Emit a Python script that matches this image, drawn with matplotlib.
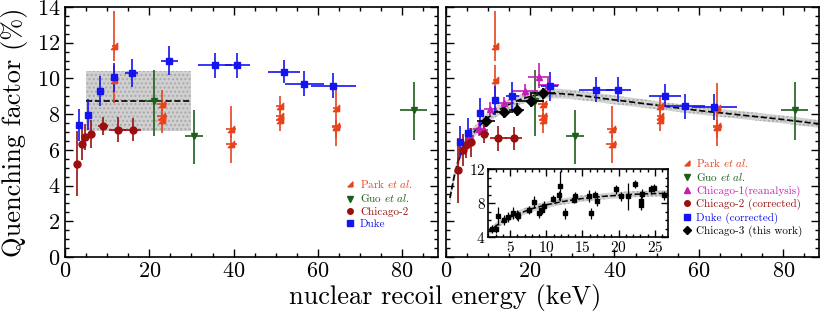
import matplotlib
matplotlib.use("Agg")
import matplotlib.pyplot as plt
from matplotlib.lines import Line2D
from matplotlib.ticker import MultipleLocator

plt.rcParams["font.family"] = "cmr10"
plt.rcParams["mathtext.fontset"] = "cm"
plt.rcParams["axes.unicode_minus"] = False
plt.rcParams["axes.formatter.use_mathtext"] = True

# colours
c_park = "#e8431c"
c_guo = "#1d5e1d"
c_chi1 = "#c21fb4"
c_chi2 = "#9a0e0e"
c_duke = "#1414f0"
c_chi3 = "black"

# ---- Park et al. (same in both panels)
park_x = [11.7, 11.7, 23.0, 23.0, 23.0, 39.4, 39.4, 50.9, 50.9, 50.9, 64.4, 64.4, 64.4]
park_y = [11.8, 9.93, 8.57, 7.9, 7.65, 7.17, 6.31, 8.44, 7.88, 7.65, 8.33, 7.35, 7.26]
park_ylo = [0.8, 1.3, 0.4, 0.5, 0.7, 0.5, 1.05, 0.4, 0.4, 0.6, 0.5, 0.7, 1.06]
park_yhi = [1.95, 0.8, 0.8, 0.4, 0.4, 1.27, 0.5, 0.56, 0.4, 0.3, 1.4, 0.5, 0.4]
park_xe = [0.6, 0.6, 1.2, 1.2, 1.0, 1.2, 1.3, 0.9, 0.9, 0.9, 0.9, 1.0, 1.0]

# ---- Guo et al.
guo_x = [21.1, 30.6, 82.7]
guo_y = [8.72, 6.76, 8.21]
guo_ylo = [1.93, 1.53, 1.68]
guo_yhi = [1.77, 1.49, 1.57]
guo_xe = [2.0, 2.2, 3.2]

# ---- Chicago-2 (original / corrected)
chi2_x = [2.8, 4.0, 4.75, 6.1, 9.1, 12.5, 16.1]
chi2_y = [5.23, 6.35, 6.72, 6.89, 7.35, 7.13, 7.13]
chi2c_y = [4.85, 5.97, 6.27, 6.42, 6.87, 6.65, 6.65]
chi2_ye = [1.8, 0.9, 0.75, 0.8, 0.5, 0.7, 0.65]
chi2_xe = [0.3, 0.3, 0.3, 0.3, 1.2, 2.0, 2.0]

# ---- Duke (original / corrected)
duke_x = [3.4, 5.4, 8.2, 11.7, 15.8, 24.7, 35.6, 40.9, 52.0, 56.8, 63.7]
duke_y = [7.37, 7.97, 9.31, 10.06, 10.3, 11.0, 10.73, 10.73, 10.38, 9.69, 9.6]
dukec_y = [6.42, 6.94, 8.06, 8.77, 9.0, 9.56, 9.37, 9.37, 9.03, 8.44, 8.38]
duke_ye = [0.9, 0.85, 0.85, 0.8, 0.8, 0.8, 0.7, 0.7, 0.65, 0.7, 0.72]
duke_xe = [0.3, 0.4, 0.5, 0.6, 1.6, 2.0, 4.0, 3.0, 3.8, 4.7, 5.3]

# ---- Chicago-1 (reanalysis)
chi1_x = [5.8, 7.9, 9.0, 10.6, 13.8, 18.8, 22.1, 24.3]
chi1_y = [6.8, 7.15, 7.1, 8.3, 8.6, 9.3, 10.1, 9.63]
chi1_ylo = [0.45, 0.4, 0.4, 0.4, 0.35, 0.35, 0.65, 0.4]
chi1_yhi = [0.45, 0.4, 0.4, 0.4, 0.35, 0.4, 0.75, 0.4]
chi1_xe = [1.0, 1.5, 1.0, 1.5, 2.3, 3.0, 2.5, 2.5]

# ---- Chicago-3 (this work)
chi3_x = [9.5, 13.7, 16.8, 20.2, 23.0]
chi3_y = [7.6, 8.1, 8.25, 8.76, 9.17]
chi3_ye = [0.3, 0.3, 0.37, 0.35, 0.3]
chi3_xe = [2.2, 2.2, 1.7, 3.0, 3.0]

# ---- model curve and band (right panel)
fit_x = [1.0, 2.0, 3.0, 4.0, 5.0, 6.0, 8.0, 10.0, 12.0, 15.0, 18.0, 21.0, 24.0,
         27.0, 30.0, 35.0, 40.0, 50.0, 60.0, 70.0, 80.0, 88.5]
fit_y = [3.3, 4.5, 5.4, 6.0, 6.45, 6.8, 7.35, 7.8, 8.15, 8.55, 8.85, 9.05, 9.15,
         9.15, 9.1, 8.95, 8.8, 8.5, 8.2, 7.95, 7.7, 7.45]
band_lo = [3.0, 4.2, 5.1, 5.7, 6.15, 6.5, 7.05, 7.5, 7.85, 8.25, 8.57, 8.78, 8.88,
           8.88, 8.84, 8.7, 8.55, 8.27, 7.98, 7.73, 7.48, 7.23]
band_hi = [3.6, 4.8, 5.7, 6.3, 6.75, 7.1, 7.65, 8.1, 8.45, 8.85, 9.13, 9.32, 9.42,
           9.42, 9.36, 9.2, 9.05, 8.73, 8.42, 8.17, 7.92, 7.67]

# ---- inset data (Chicago-3 individual points)
ins_x = [2.5, 3.1, 3.4, 4.1, 4.7, 5.4, 5.9, 6.1, 7.6, 8.3, 9.0, 9.35, 9.7, 10.9,
         11.8, 11.9, 12.55, 13.8, 13.9, 15.9, 16.2, 16.7, 17.0, 19.6, 20.3, 21.3,
         22.3, 23.1, 23.1, 23.2, 24.4, 24.9, 26.2]
ins_y = [5.0, 5.0, 6.5, 6.0, 6.4, 6.9, 6.65, 6.5, 7.2, 8.1, 6.9, 7.2, 7.7, 8.5,
         8.9, 10.0, 6.8, 8.4, 8.8, 8.8, 6.8, 9.0, 8.3, 9.6, 8.8, 8.8,
         10.25, 8.3, 7.8, 9.1, 9.6, 9.8, 8.9]
ins_ye = [0.5, 0.5, 1.1, 0.6, 0.6, 0.7, 0.6, 0.6, 0.5, 0.7, 0.6, 0.5, 0.5, 0.4,
          0.5, 1.8, 0.6, 0.4, 0.5, 0.7, 0.6, 0.4, 0.6, 0.5, 0.5, 1.6,
          0.5, 0.5, 0.6, 0.5, 0.5, 0.5, 0.5]
ins_fx = [2.0, 3.0, 4.0, 5.0, 6.0, 8.0, 10.0, 12.0, 15.0, 18.0, 21.0, 24.0, 26.8]
ins_fy = [4.6, 5.3, 5.9, 6.35, 6.7, 7.35, 7.8, 8.15, 8.55, 8.8, 9.0, 9.1, 9.15]
ins_lo = [4.2, 4.9, 5.5, 5.95, 6.3, 6.95, 7.42, 7.78, 8.18, 8.44, 8.64, 8.74, 8.8]
ins_hi = [5.0, 5.7, 6.3, 6.75, 7.1, 7.75, 8.18, 8.52, 8.92, 9.16, 9.36, 9.46, 9.5]

park_marker = [(1, -1), (1, 1), (-1, -1), (1, -1)]

fig = plt.figure(figsize=(8.3, 3.12), dpi=100)
axL = fig.add_axes([0.0783, 0.1763, 0.4494, 0.8013])
axR = fig.add_axes([0.537, 0.1763, 0.4498, 0.8013])


def style(ax, xmaj, xmin, ymaj, ymin, size):
    ax.xaxis.set_major_locator(MultipleLocator(xmaj))
    ax.xaxis.set_minor_locator(MultipleLocator(xmin))
    ax.yaxis.set_major_locator(MultipleLocator(ymaj))
    ax.yaxis.set_minor_locator(MultipleLocator(ymin))
    ax.tick_params(which="both", direction="in", top=True, right=True, labelsize=size, width=1)
    ax.tick_params(which="major", length=6)
    ax.tick_params(which="minor", length=3)
    for s in ax.spines.values():
        s.set_linewidth(1.2)


def eb(ax, x, y, ye, xe, color, marker, ms, z=3):
    ax.errorbar(x, y, yerr=ye, xerr=xe, fmt="none", ecolor=color, elinewidth=1.2, capsize=0, zorder=z)
    ax.plot(x, y, linestyle="none", marker=marker, color=color, ms=ms, zorder=z + 0.5)


for ax in (axL, axR):
    ax.set_xlim(0, 88.5)
    ax.set_ylim(0, 14)
    style(ax, 20, 5, 2, 0.5, 16)

# left panel
axL.fill_between([5, 30], 7.05, 10.4, facecolor="#d0d0d0", edgecolor="#aaaaaa",
                 hatch="....", linewidth=0, zorder=1)
axL.plot([5, 30], [8.75, 8.75], "k--", lw=1.2, zorder=2)
eb(axL, park_x, park_y, [park_ylo, park_yhi], park_xe, c_park, park_marker, 4.5)
eb(axL, guo_x, guo_y, [guo_ylo, guo_yhi], guo_xe, c_guo, "v", 4)
eb(axL, chi2_x, chi2_y, chi2_ye, chi2_xe, c_chi2, "o", 5)
eb(axL, duke_x, duke_y, duke_ye, duke_xe, c_duke, "s", 5)
axL.set_ylabel("Quenching factor (%)", fontsize=19, labelpad=6)

# right panel
axR.fill_between(fit_x, band_lo, band_hi, facecolor="#d4d4d4", edgecolor="#aaaaaa",
                 hatch="....", linewidth=0, zorder=1)
axR.plot(fit_x, fit_y, "k--", lw=1.2, zorder=2)
eb(axR, park_x, park_y, [park_ylo, park_yhi], park_xe, c_park, park_marker, 4.5)
eb(axR, guo_x, guo_y, [guo_ylo, guo_yhi], guo_xe, c_guo, "v", 4)
eb(axR, chi1_x, chi1_y, [chi1_ylo, chi1_yhi], chi1_xe, c_chi1, "^", 4.5)
eb(axR, chi2_x, chi2c_y, chi2_ye, chi2_xe, c_chi2, "o", 5)
eb(axR, duke_x, dukec_y, duke_ye, duke_xe, c_duke, "s", 5)
eb(axR, chi3_x, chi3_y, chi3_ye, chi3_xe, c_chi3, "D", 5, z=4)
axR.tick_params(labelleft=False)

fig.text(0.536, 0.004, "nuclear recoil energy (keV)", fontsize=19, ha="center", va="bottom")


def legend(ax, items, anchor):
    handles = [Line2D([], [], linestyle="none", marker=m, color=c, ms=s) for _, c, m, s in items]
    leg = ax.legend(handles, [t for t, _, _, _ in items], loc="upper left", bbox_to_anchor=anchor,
                    frameon=False, fontsize=8, handlelength=0.7, handletextpad=0.5,
                    labelspacing=0.2, borderpad=0, borderaxespad=0)
    for txt, (_, c, _, _) in zip(leg.get_texts(), items):
        txt.set_color(c)
    return leg


legend(axL, [("Park $\\it{et\\ al.}$", c_park, park_marker, 3.5),
             ("Guo $\\it{et\\ al.}$", c_guo, "v", 4),
             ("Chicago-2", c_chi2, "o", 4),
             ("Duke", c_duke, "s", 4)], (0.755, 0.315))
legend(axR, [("Park $\\it{et\\ al.}$", c_park, park_marker, 3.5),
             ("Guo $\\it{et\\ al.}$", c_guo, "v", 4),
             ("Chicago-1(reanalysis)", c_chi1, "^", 4),
             ("Chicago-2 (corrected)", c_chi2, "o", 4),
             ("Duke (corrected)", c_duke, "s", 4),
             ("Chicago-3 (this work)", c_chi3, "D", 4)], (0.635, 0.4))

# inset
axI = fig.add_axes([0.5883, 0.2394, 0.2165, 0.2189])
axI.fill_between(ins_fx, ins_lo, ins_hi, facecolor="#d4d4d4", edgecolor="#aaaaaa",
                 hatch="....", linewidth=0, zorder=1)
axI.plot(ins_fx, ins_fy, "k--", lw=1.1, zorder=2)
axI.errorbar(ins_x, ins_y, yerr=ins_ye, fmt="s", color="black", ms=2.5, elinewidth=0.9,
             capsize=0, zorder=3)
axI.set_xlim(2, 26.8)
axI.set_ylim(4, 12)
style(axI, 5, 1, 4, 1, 11)
axI.tick_params(which="major", length=5, pad=2)
axI.tick_params(which="minor", length=2.5)

fig.savefig("out.png", dpi=100)
